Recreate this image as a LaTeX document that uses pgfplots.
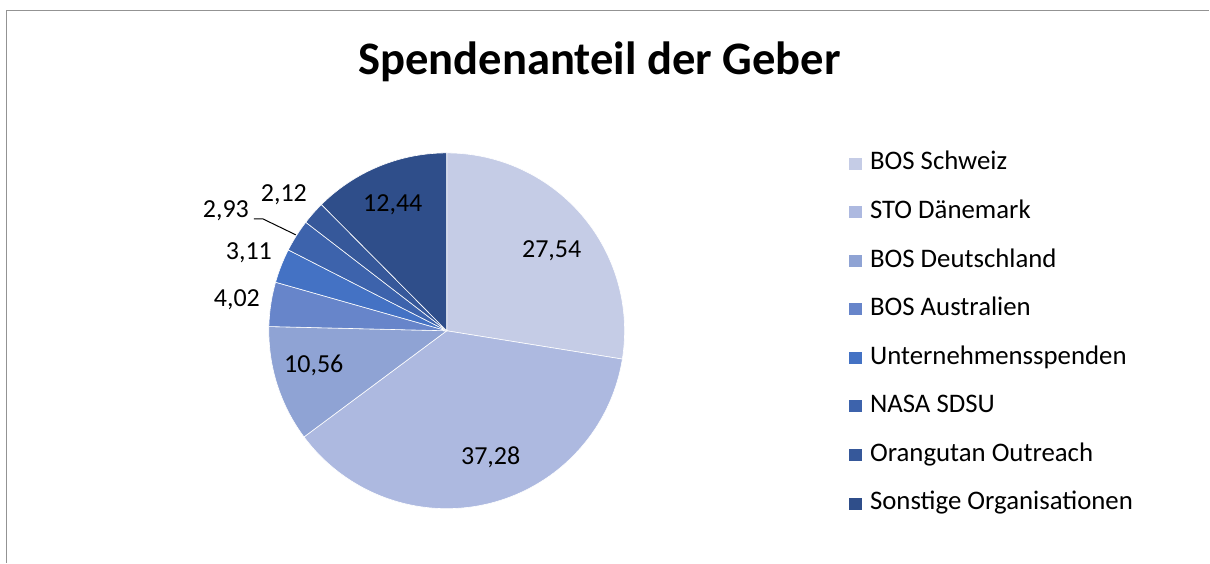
\documentclass[border=0pt]{standalone}
\usepackage{pgfplots}
\pgfplotsset{compat=1.18}
\usepackage{fontspec}
\setmainfont{Carlito}
\definecolor{c1}{RGB}{197,204,230}
\definecolor{c2}{RGB}{173,185,224}
\definecolor{c3}{RGB}{143,163,212}
\definecolor{c4}{RGB}{103,133,202}
\definecolor{c5}{RGB}{68,114,196}
\definecolor{c6}{RGB}{61,99,172}
\definecolor{c7}{RGB}{54,88,154}
\definecolor{c8}{RGB}{47,78,138}
\def\cum{0}
\newcommand\slice[2]{%
  \pgfmathsetmacro\aS{90-3.6*\cum}%
  \pgfmathsetmacro\aE{90-3.6*(\cum+#2)}%
  \edef\doplot{\noexpand\addplot[fill=#1, draw=white, line width=0.3pt, domain=\aE:\aS, samples=90]
    ({447+178*cos(x)},{232+178*sin(x)}) -- (447,232) -- cycle;}%
  \doplot
  \pgfmathsetmacro\newcum{\cum+#2}%
  \xdef\cum{\newcum}%
}
\begin{document}
\begin{tikzpicture}
\begin{axis}[
  width=605pt, height=281.5pt, scale only axis,
  xmin=0, xmax=1210, ymin=0, ymax=563,
  hide axis, clip=false,
  legend cell align=left,
  legend image code/.code={\fill[#1] (0pt,0pt) rectangle (7pt,6.5pt);},
  legend style={at={(axis cs:849,411)}, anchor=north west, draw=none, fill=none,
    inner sep=0pt, outer sep=0pt, row sep=15.15pt, column sep=3.5pt,
    font=\fontsize{13.4}{13.4}\selectfont,
    nodes={inner sep=0pt, text height=9pt, text depth=0pt, anchor=base west}},
]
\path (axis cs:0,0) rectangle (axis cs:1210,563);
\slice{c1}{27.54}\addlegendentry{BOS Schweiz}
\slice{c2}{37.28}\addlegendentry{STO Dänemark}
\slice{c3}{10.56}\addlegendentry{BOS Deutschland}
\slice{c4}{4.02}\addlegendentry{BOS Australien}
\slice{c5}{3.11}\addlegendentry{Unternehmensspenden}
\slice{c6}{2.93}\addlegendentry{NASA SDSU}
\slice{c7}{2.12}\addlegendentry{Orangutan Outreach}
\slice{c8}{12.44}\addlegendentry{Sonstige Organisationen}
% frame
\draw[gray!85, line width=0.75pt] (axis cs:6.5,0) -- (axis cs:6.5,552.5) -- (axis cs:1210,552.5);
% title
\node[anchor=base, font=\fontsize{23.3}{23.3}\selectfont\bfseries] at (axis cs:600,488) {Spendenanteil der Geber};
% labels
\begin{scope}[every node/.style={anchor=base, font=\fontsize{13}{13}\selectfont, inner sep=0pt}]
\node at (axis cs:552,305) {27,54};
\node at (axis cs:491,98) {37,28};
\node at (axis cs:314,190) {10,56};
\node at (axis cs:237,256) {4,02};
\node at (axis cs:249,303) {3,11};
\node at (axis cs:226,345) {2,93};
\node at (axis cs:284,361) {2,12};
\node at (axis cs:393,351) {12,44};
\end{scope}
\draw[black, line width=0.5pt] (axis cs:254,344) -- (axis cs:263,344) -- (axis cs:296,328);
\end{axis}
\end{tikzpicture}
\end{document}
